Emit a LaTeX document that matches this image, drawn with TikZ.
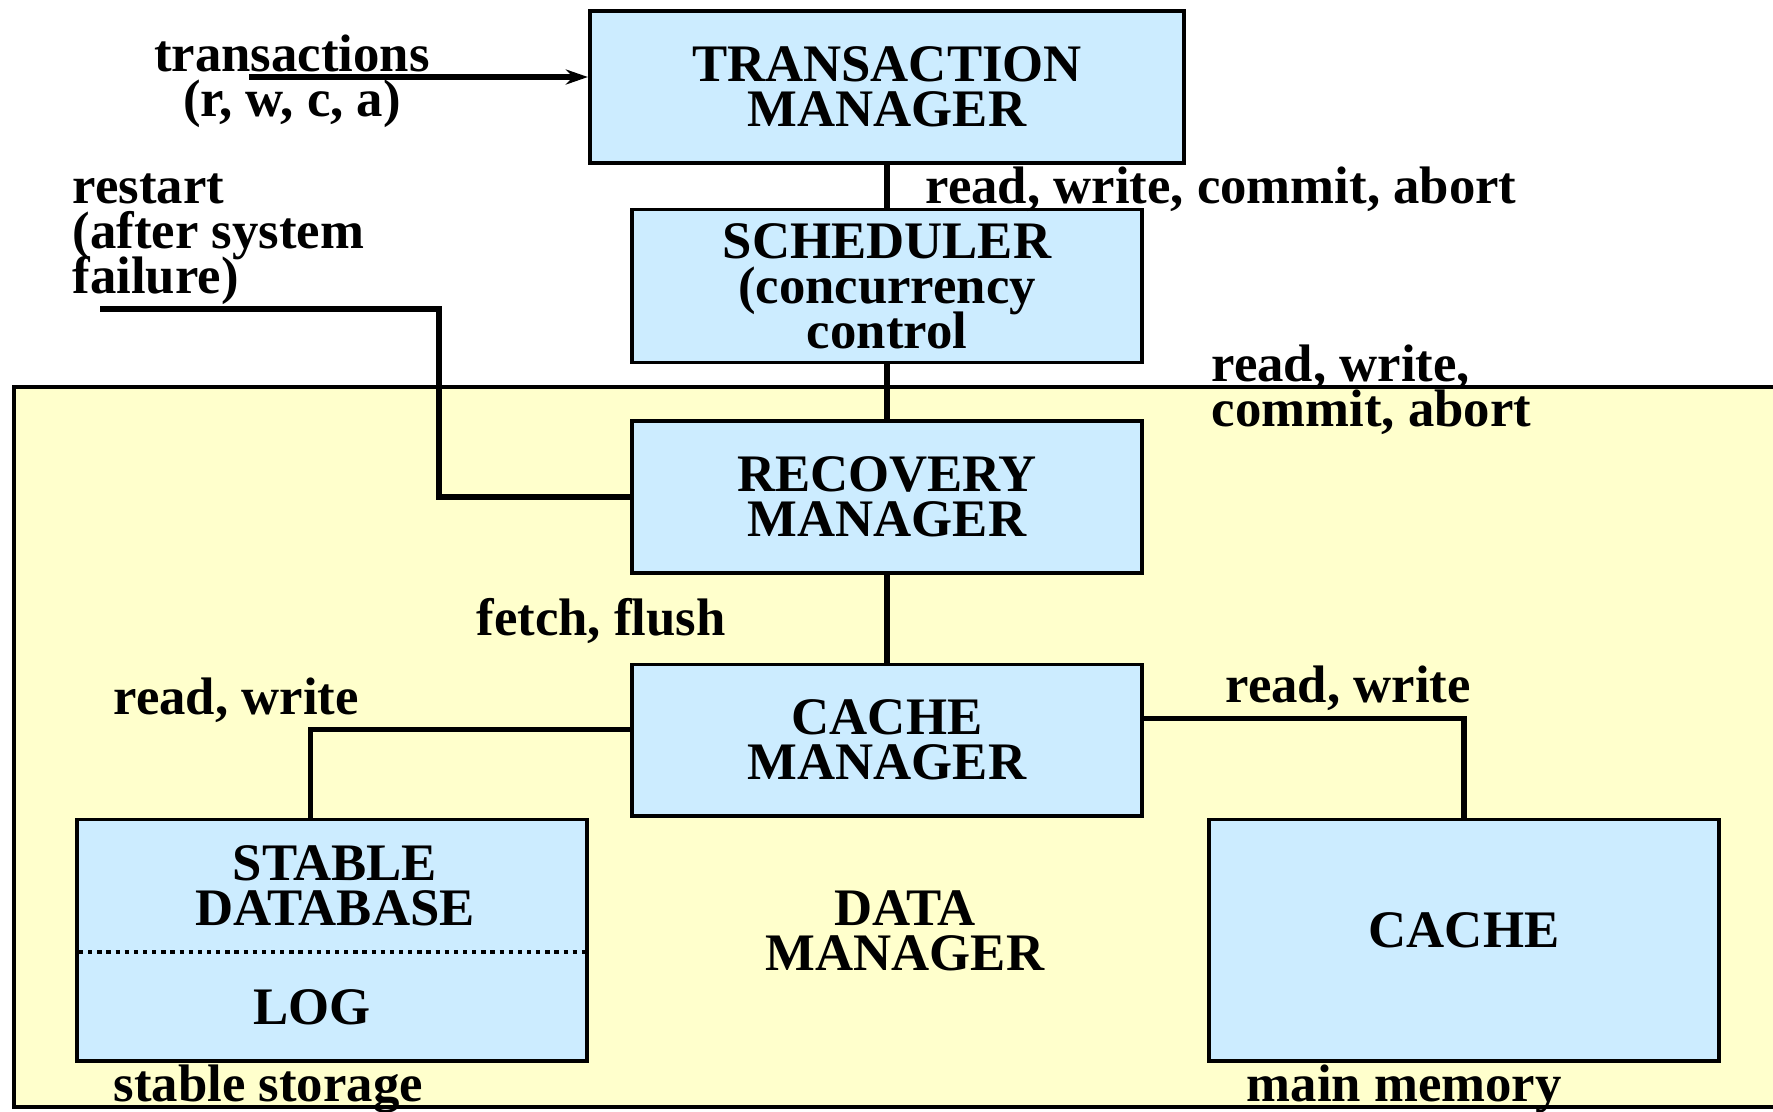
\documentclass[tikz,border=0pt]{standalone}
\usepackage{fontspec}
\setmainfont{Liberation Serif}
\usetikzlibrary{arrows.meta, positioning}

\definecolor{boxblue}{HTML}{CCECFF}
\definecolor{dmyellow}{HTML}{FFFFCC}
\newcommand\dmfont{\fontsize{15}{12.8}\selectfont\bfseries\lineskiplimit=-20pt\relax}

\begin{document}
\begin{tikzpicture}[x=0.01cm,y=-0.01cm, font=\dmfont,
  module/.style={draw, line width=1.1pt, fill=boxblue, align=center, inner sep=0pt},
  lien/.style={line width=1.5pt},
  note/.style={align=left, inner sep=0pt, anchor=west},
  pointille/.style={line width=1.2pt, dash pattern=on 1.2pt off 1.4pt}]

\useasboundingbox (0,0) rectangle (1773,1111);

%% ================= data manager : fond jaune =============================
\fill[dmyellow] (14,387) rectangle (1773,1107);
\draw[line width=1.1pt] (1773,387) -- (14,387) -- (14,1107) -- (1773,1107);

%% ================= pile des gestionnaires =================================
\node[module, minimum width=5.94cm, minimum height=1.52cm] (tm)    at (887,87)  {TRANSACTION\\MANAGER};
\node[module, minimum width=5.09cm, minimum height=1.53cm] (sched) at (887,286) {SCHEDULER\\(concurrency\\control};
\node[module, minimum width=5.09cm, minimum height=1.52cm] (recov) at (887,497) {RECOVERY\\MANAGER};
\node[module, minimum width=5.09cm, minimum height=1.51cm] (cmgr)  at (887,740) {CACHE\\MANAGER};
\draw[lien] (tm) -- (sched);
\draw[lien] (sched) -- (recov);
\draw[lien] (recov) -- (cmgr);

%% ================= stockage stable et cache ===============================
\node[module, minimum width=5.09cm, minimum height=2.41cm] (sdb)   at (332,940) {};
\node[align=center, inner sep=0pt] (sdbtxt) at (335,886) {STABLE\\DATABASE};
\node[inner sep=0pt] (log) at (312,1007) {LOG};
\draw[pointille] (79,952) -- (586,952);
\node[module, minimum width=5.09cm, minimum height=2.41cm] (cache) at (1464,940) {};
\node[inner sep=0pt] (cachetxt) at (1464,930) {CACHE};
\node[align=center, inner sep=0pt] (dm) at (905,931) {DATA\\MANAGER};

\draw[lien] ([yshift=0.105cm]cmgr.west) -| ([xshift=-0.215cm]sdb.north);
\draw[lien] ([yshift=0.215cm]cmgr.east) -| (cache.north);

%% ================= entrées ===============================================
\node[align=center, inner sep=0pt] (trx) at (292,81) {transactions\\(r, w, c, a)};
\coordinate (tin) at (249,77);
\draw[lien, -{Stealth[length=2.2mm, width=1.5mm]}] (tin) -- (tin -| tm.west);

\node[note] (rst) at (72,239) {restart\\(after system\\failure)};
\coordinate (rsin) at (100,309);
\draw[lien] (rsin) -- ++(339,0) |- (recov.west);

%% ================= étiquettes ============================================
\node[note] (rwca)  at (925,189)  {read, write, commit, abort};
\node[note] (rwca2) at (1211,390) {read, write,\\commit, abort};
\node[inner sep=0pt] (ff) at (601,621) {fetch, flush};
\node[note] (rwl) at (113,700)  {read, write};
\node[note] (rwr) at (1225,688) {read, write};
\node[note] (ss)  at (113,1089) {stable storage};
\node[note] (mm)  at (1246,1089) {main memory};
\end{tikzpicture}
\end{document}
